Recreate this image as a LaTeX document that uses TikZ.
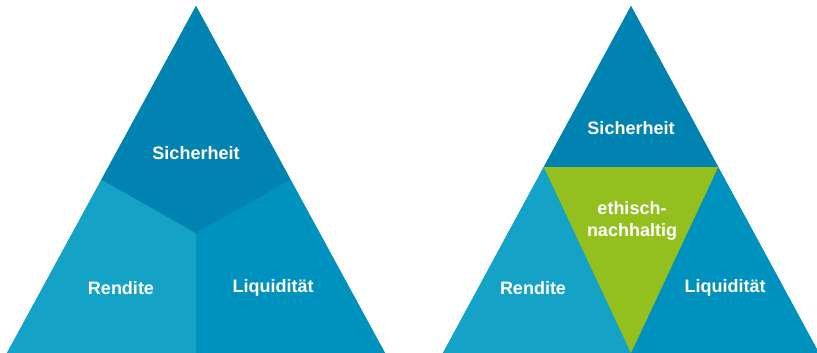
\documentclass[tikz,border=0pt]{standalone}
\usepackage{fontspec}
\setmainfont{Liberation Sans}
\usetikzlibrary{calc, positioning}
\definecolor{sicherBlue}{RGB}{0, 131, 176}
\definecolor{renditeBlue}{RGB}{20, 163, 199}
\definecolor{liquiBlue}{RGB}{0, 146, 191}
\definecolor{ethikGreen}{RGB}{147, 192, 31}
\begin{document}
\begin{tikzpicture}[
        x=1pt, y=1pt,
        areatext/.style={text=white, font=\bfseries\fontsize{18}{22}\selectfont, align=center, inner sep=0pt}
    ]
        \useasboundingbox (0,0) rectangle (817,353);

        % Left triangle
        \coordinate (lTop) at (196,347);
        \coordinate (lLeft) at (7,0);
        \coordinate (lRight) at (385,0);
        \coordinate (lBase) at (196,0);
        \coordinate (lMid) at (196,120);
        \coordinate (lBL) at ($(lTop)!0.5!(lLeft)$);
        \coordinate (lBR) at ($(lTop)!0.5!(lRight)$);

        \fill[liquiBlue] (lTop) -- (lLeft) -- (lRight) -- cycle;
        \fill[renditeBlue] (lLeft) -- (lBL) -- (lMid) -- (lBase) -- cycle;
        \fill[liquiBlue] (lBase) -- (lMid) -- (lBR) -- (lRight) -- cycle;
        \fill[sicherBlue] (lTop) -- (lBL) -- (lMid) -- (lBR) -- cycle;

        \node[areatext] (lSicher) at (196,200) {Sicherheit};
        \node[areatext] (lRendite) at (121,65) {Rendite};
        \node[areatext] (lLiqui) at (273,65) {Liquidität};

        % Right triangle
        \coordinate (rTop) at (631,347);
        \coordinate (rLeft) at (443,0);
        \coordinate (rRight) at (819,0);
        \coordinate (rBase) at (631,0);
        \coordinate (rGL) at ($(rTop)!0.464!(rLeft)$);
        \coordinate (rGR) at ($(rTop)!0.464!(rRight)$);

        \fill[liquiBlue] (rTop) -- (rLeft) -- (rRight) -- cycle;
        \fill[sicherBlue] (rTop) -- (rGL) -- (rGR) -- cycle;
        \fill[renditeBlue] (rLeft) -- (rGL) -- (rBase) -- cycle;
        \fill[liquiBlue] (rBase) -- (rGR) -- (rRight) -- cycle;
        \fill[ethikGreen] (rGL) -- (rGR) -- (rBase) -- cycle;

        \node[areatext] (rSicher) at (631,225) {Sicherheit};
        \node[areatext] (rEthik) at (632,132) {ethisch-\\nachhaltig};
        \node[areatext] (rRendite) at (533,65) {Rendite};
        \node[areatext] (rLiqui) at (725,65) {Liquidität};
\end{tikzpicture}
\end{document}
